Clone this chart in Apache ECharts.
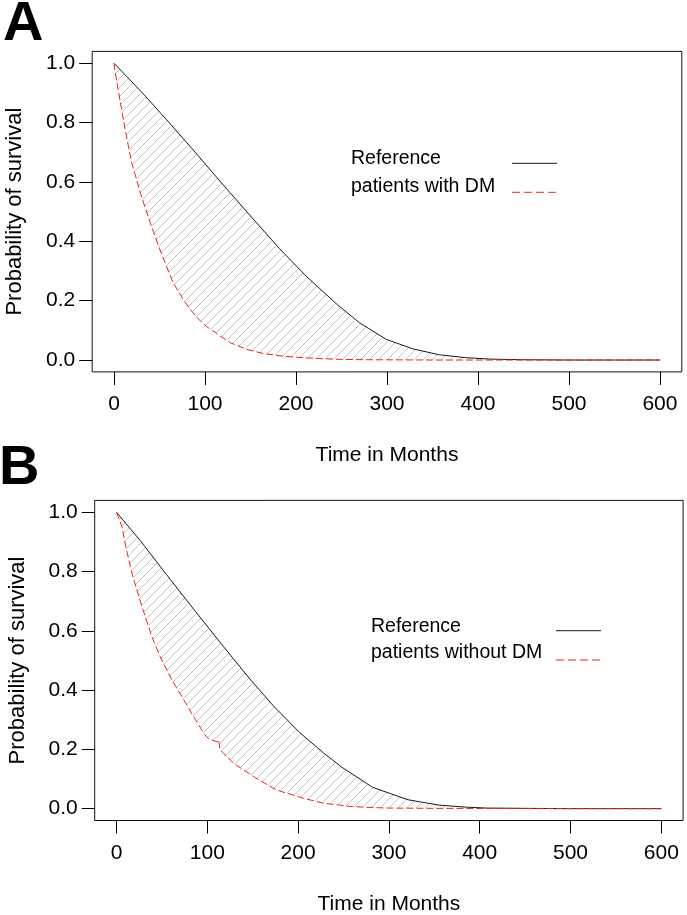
<!DOCTYPE html>
<html><head><meta charset="utf-8">
<script src="https://cdn.jsdelivr.net/npm/echarts@6/dist/echarts.min.js"></script>
<style>html,body{margin:0;padding:0;background:#fff}#c{width:687px;height:915px}</style>
</head><body><div id="c"></div>
<script>
// ---- data ----
const xTicks = [0, 100, 200, 300, 400, 500, 600];
const yTicks = [0, 0.2, 0.4, 0.6, 0.8, 1.0];

const timeRefA = [0, 30, 58, 87, 120, 153, 182, 212, 246, 270, 299, 328, 357, 386, 414, 450, 500, 550, 600];
const survRefA = [1.0, 0.904, 0.809, 0.708, 0.590, 0.475, 0.375, 0.280, 0.185, 0.125, 0.070, 0.038, 0.018, 0.008, 0.003, 0.001, 0, 0, 0];

const timeDmA = [0, 1, 4, 8, 12, 19, 29, 40, 50, 65, 77, 84, 92, 102, 108, 111, 115, 128, 146, 164, 185, 202, 225, 250, 280, 350, 450, 600];
const survDmA = [1.0, 0.975, 0.92, 0.85, 0.78, 0.67, 0.562, 0.461, 0.375, 0.26, 0.2, 0.17, 0.14, 0.112, 0.099, 0.094, 0.084, 0.058, 0.036, 0.022, 0.013, 0.009, 0.005, 0.002, 0.001, 0, 0, 0];

const timeRefB = [0, 26, 55, 85, 118, 147, 173, 202, 228, 248, 282, 321, 355, 385, 408, 450, 500, 550, 600];
const survRefB = [1.0, 0.905, 0.790, 0.673, 0.546, 0.437, 0.346, 0.256, 0.188, 0.140, 0.072, 0.030, 0.012, 0.005, 0.002, 0.001, 0, 0, 0];

const timeNoDmB = [0, 2, 6, 11, 18, 28, 39, 48, 61, 72, 85, 97, 101, 111, 112.5, 114, 118, 129, 151, 176, 206, 228, 246, 258, 297, 350, 450, 600];
const survNoDmB = [1.0, 0.985, 0.951, 0.873, 0.783, 0.682, 0.58, 0.513, 0.434, 0.378, 0.31, 0.25, 0.237, 0.225, 0.232, 0.2, 0.186, 0.153, 0.108, 0.063, 0.035, 0.018, 0.012, 0.007, 0.002, 0.001, 0, 0];

const panelLabels = ['A', 'B'];
const legendA = ['Reference', 'patients with DM'];
const legendB = ['Reference', 'patients without DM'];
const xTitle = 'Time in Months';
const yTitle = 'Probability of survival';

// ---- helpers ----
const FF = '"Liberation Sans", Arial, sans-serif';
function pairs(t, s) { return t.map((v, i) => [v, s[i]]); }

const hatch = document.createElement('canvas');
hatch.width = 9; hatch.height = 9;
(function () {
  const g = hatch.getContext('2d');
  g.strokeStyle = '#c4c4c4'; g.lineWidth = 1;
  g.beginPath();
  g.moveTo(-1, 10); g.lineTo(10, -1);
  g.moveTo(-1, 1); g.lineTo(1, -1);
  g.moveTo(8, 10); g.lineTo(10, 8);
  g.stroke();
})();

function band(idx, tu, su, tl, sl) {
  return {
    type: 'custom', xAxisIndex: idx, yAxisIndex: idx, z: 1, silent: true, clip: true,
    data: [[0, 0]],
    renderItem: function (params, api) {
      const pts = [];
      for (let i = 0; i < tu.length; i++) if (tu[i] <= 420) pts.push(api.coord([tu[i], su[i]]));
      for (let i = tl.length - 1; i >= 0; i--) if (tl[i] <= 420) pts.push(api.coord([tl[i], sl[i]]));
      return { type: 'polygon', shape: { points: pts }, style: { fill: { image: hatch, repeat: 'repeat' }, stroke: null } };
    }
  };
}

function lineS(idx, t, s, color, dashed) {
  return {
    type: 'line', xAxisIndex: idx, yAxisIndex: idx, data: pairs(t, s), showSymbol: false, symbol: 'none', z: dashed ? 4 : 3,
    lineStyle: { color: color, width: 1, type: dashed ? [7, 3] : 'solid' }, silent: true
  };
}

function xAx(idx) {
  return {
    type: 'value', gridIndex: idx, min: -24, max: 624,
    axisLine: { show: false, onZero: false }, splitLine: { show: false },
    axisTick: { show: true, length: 13, customValues: xTicks, lineStyle: { color: '#000', width: 1 } },
    axisLabel: { customValues: xTicks, margin: 22, fontSize: 21, color: '#000', fontFamily: FF },
    name: xTitle, nameLocation: 'middle', nameGap: 73,
    nameTextStyle: { fontSize: 21, color: '#000', fontFamily: FF }
  };
}
function yAx(idx) {
  return {
    type: 'value', gridIndex: idx, min: -0.04, max: 1.04,
    axisLine: { show: false, onZero: false }, splitLine: { show: false },
    axisTick: { show: true, length: 13, customValues: yTicks, lineStyle: { color: '#000', width: 1 } },
    axisLabel: { customValues: yTicks, margin: 17, fontSize: 21, color: '#000', fontFamily: FF,
      formatter: v => Number(v).toFixed(1) },
    name: yTitle, nameLocation: 'middle', nameGap: 66,
    nameTextStyle: { fontSize: 22, color: '#000', fontFamily: FF }
  };
}

function txt(x, y, s, size, weight) {
  return { type: 'text', x: x, y: y, silent: true,
    style: { text: s, fill: '#000', font: (weight || 'normal') + ' ' + size + 'px ' + FF, textAlign: 'left', textVerticalAlign: 'middle' } };
}
function seg(x1, x2, y, color, dash) {
  return { type: 'line', silent: true, shape: { x1: x1, y1: y, x2: x2, y2: y },
    style: { stroke: color, lineWidth: 1, lineDash: dash || null } };
}

const chart = echarts.init(document.getElementById('c'), null, { renderer: 'canvas' });
chart.setOption({
  animation: false,
  backgroundColor: '#fff',
  grid: [
    { left: 92.2, top: 51.4, width: 589.6, height: 320.5, show: true, borderColor: '#111', borderWidth: 1, backgroundColor: 'transparent', containLabel: false, outerBoundsMode: 'none' },
    { left: 94.7, top: 500.4, width: 588.4, height: 320.1, show: true, borderColor: '#111', borderWidth: 1, backgroundColor: 'transparent', containLabel: false, outerBoundsMode: 'none' }
  ],
  xAxis: [xAx(0), xAx(1)],
  yAxis: [yAx(0), yAx(1)],
  series: [
    band(0, timeRefA, survRefA, timeDmA, survDmA),
    lineS(0, timeRefA, survRefA, '#1a1a1a', false),
    lineS(0, timeDmA, survDmA, '#ee2222', true),
    band(1, timeRefB, survRefB, timeNoDmB, survNoDmB),
    lineS(1, timeRefB, survRefB, '#1a1a1a', false),
    lineS(1, timeNoDmB, survNoDmB, '#ee2222', true)
  ],
  graphic: [
    txt(3, 25, panelLabels[0], 56, 'bold'),
    txt(-1, 469, panelLabels[1], 56, 'bold'),
    txt(351, 158.7, legendA[0], 19.5),
    txt(351, 186.3, legendA[1], 19.5),
    seg(512, 557, 163.3, '#1a1a1a'),
    seg(512, 556, 192.3, '#ee2222', [8, 4]),
    txt(371, 626.3, legendB[0], 19.5),
    txt(371, 653, legendB[1], 19.5),
    seg(556, 601, 630.7, '#1a1a1a'),
    seg(556, 600, 660, '#ee2222', [8, 4])
  ]
});
</script></body></html>
